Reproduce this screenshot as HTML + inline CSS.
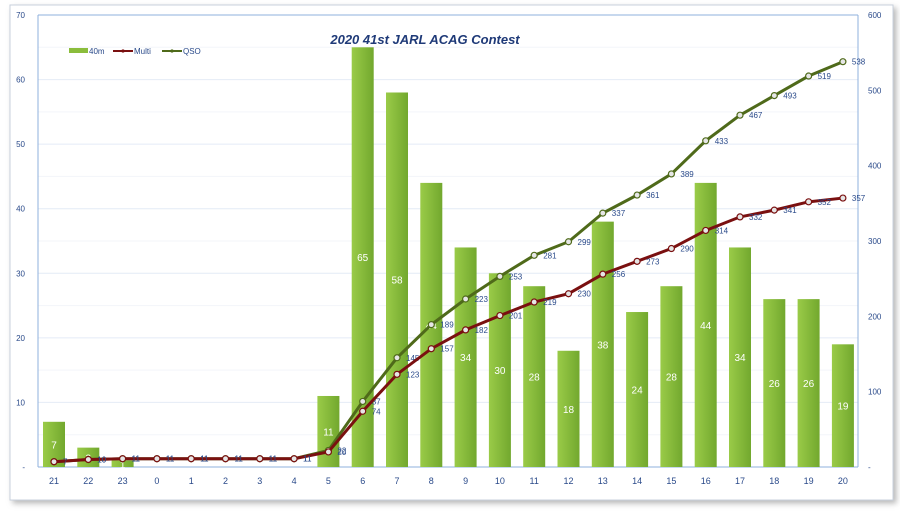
<!DOCTYPE html><html><head><meta charset="utf-8"><style>
body{margin:0;background:#fff;width:900px;height:513px;overflow:hidden;font-family:"Liberation Sans",sans-serif}
</style></head><body>
<svg id="s" width="900" height="513" xmlns="http://www.w3.org/2000/svg" font-family="Liberation Sans, sans-serif">
<defs>
<linearGradient id="g" x1="0" x2="1"><stop offset="0" stop-color="#9acb48"/><stop offset="1" stop-color="#72a82e"/></linearGradient>
<filter id="sh"><feDropShadow dx="3" dy="3" stdDeviation="3" flood-color="#888" flood-opacity="0.6"/></filter>
</defs>
<rect x="10" y="5" width="883" height="495" fill="#fff" stroke="#c8d0dc" filter="url(#sh)"/>
<g id="grid"></g>
<line x1="38" y1="15" x2="38" y2="467" stroke="#8fb0dc"/>
<line x1="858" y1="15" x2="858" y2="467" stroke="#8fb0dc"/>
<line x1="38" y1="15" x2="858" y2="15" stroke="#8fb0dc"/>
<line x1="38" y1="467" x2="858" y2="467" stroke="#8fb0dc"/>
<g id="c"></g>
<text x="425" y="44" text-anchor="middle" font-size="13" font-weight="bold" font-style="italic" fill="#1f3a78">2020 41st JARL ACAG Contest</text>
<rect x="69" y="48" width="19" height="5" fill="#8bbd3c"/><text x="89" y="54" font-size="8" fill="#2a4a8a">40m</text>
<line x1="113" y1="51" x2="133" y2="51" stroke="#7a1010" stroke-width="2"/><circle cx="123" cy="51" r="1.6" fill="#7a1010"/><text x="134" y="54" font-size="8" fill="#2a4a8a">Multi</text>
<line x1="162" y1="51" x2="182" y2="51" stroke="#4f6a1a" stroke-width="2"/><circle cx="172" cy="51" r="1.6" fill="#4f6a1a"/><text x="183" y="54" font-size="8" fill="#2a4a8a">QSO</text>
</svg>
<script>
var ns="http://www.w3.org/2000/svg",c=document.getElementById('c'),gr=document.getElementById('grid');
function el(t,a,p,tx){var e=document.createElementNS(ns,t);for(var k in a)e.setAttribute(k,a[k]);if(tx!=null)e.textContent=tx;(p||c).appendChild(e);return e;}
var cats=[21,22,23,0,1,2,3,4,5,6,7,8,9,10,11,12,13,14,15,16,17,18,19,20];
var bars=[7,3,1,0,0,0,0,0,11,65,58,44,34,30,28,18,38,24,28,44,34,26,26,19];
var mul=[7,10,11,11,11,11,11,11,20,74,123,157,182,201,219,230,256,273,290,314,332,341,352,357];
var qso=[7,10,11,11,11,11,11,11,22,87,145,189,223,253,281,299,337,361,389,433,467,493,519,538];
function X(i){return 54+i*34.3;}function YL(v){return 467-v*6.457;}function YR(v){return 467-v*452/600;}
for(var v=0;v<=70;v+=5){var y=YL(v);if(v>0&&v<70)el('line',{x1:38,x2:858,y1:y,y2:y,stroke:v%10?'#f3f5fa':'#e4ebf6'},gr);
if(v%10==0)el('text',{x:25,y:y+3,'font-size':8,fill:'#2a4a8a','text-anchor':'end'},gr,v?v:'-');}
for(var v=0;v<=600;v+=100){el('text',{x:868,y:YR(v)+3,'font-size':8,fill:'#2a4a8a'},gr,v?v:'-');}
cats.forEach(function(k,i){el('text',{x:X(i),y:484,'font-size':9,fill:'#2a4a8a','text-anchor':'middle'},null,k);
if(bars[i]>0){var y=YL(bars[i]);el('rect',{x:X(i)-11,y:y,width:22,height:467-y,fill:'url(#g)'});
el('text',{x:X(i),y:(y+467)/2+4,'font-size':10,fill:'#fff','text-anchor':'middle'},null,bars[i]);}});
function line(d,col){var p=d.map(function(v,i){return X(i)+','+YR(v)}).join(' ');
el('polyline',{points:p,fill:'none',stroke:col,'stroke-width':3});
d.forEach(function(v,i){el('circle',{cx:X(i),cy:YR(v),r:3,fill:'#e6e6e6',stroke:col,'stroke-width':1.2});
el('text',{x:X(i)+9,y:YR(v)+3,'font-size':8,fill:'#2a4a8a'},null,v);});}
line(qso,'#4f6a1a');line(mul,'#7a1010');
</script>
</body></html>
